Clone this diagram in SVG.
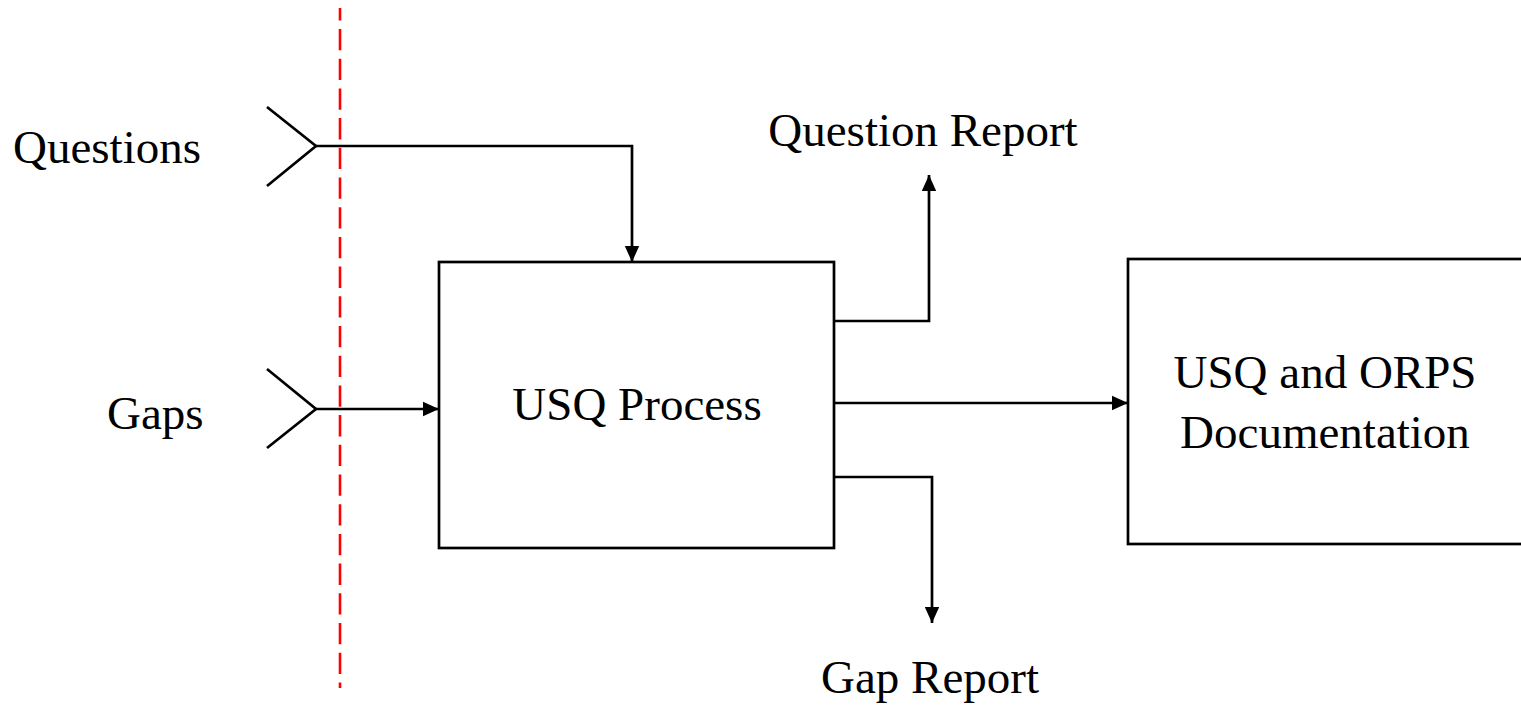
<svg xmlns="http://www.w3.org/2000/svg" width="1521" height="707" viewBox="0 0 1521 707">
<style>
.ln{fill:none;stroke:#000;stroke-width:2.7}
.box{fill:#fff;stroke:#000;stroke-width:2.7}
.t{font-family:"Liberation Serif","Times New Roman",serif;font-size:47px;fill:#000}
.dash{stroke:#ff0000;stroke-width:2.6;stroke-dasharray:21.3 8.4;stroke-dashoffset:8.7}
</style>
<defs>
<marker id="ah" viewBox="0 0 10 10" refX="10" refY="5" markerWidth="16" markerHeight="16" markerUnits="userSpaceOnUse" orient="auto">
<path d="M0,0.5 L10,5 L0,9.5 Z" fill="#000"/>
</marker>
</defs>
<rect width="1521" height="707" fill="#fff"/>
<g id="nodes">
<g id="usq-process">
<rect class="box" x="439" y="262" width="395" height="286"/>
<text class="t" x="637" y="420" text-anchor="middle">USQ Process</text>
</g>
<g id="usq-orps">
<rect class="box" x="1128" y="259" width="420" height="285"/>
<text class="t" x="1325" y="388" text-anchor="middle">USQ and ORPS</text>
<text class="t" x="1325" y="448" text-anchor="middle">Documentation</text>
</g>
<g id="questions">
<text class="t" x="13" y="163">Questions</text>
<polyline class="ln" points="267,107 316,146 267,186"/>
</g>
<g id="gaps">
<text class="t" x="107" y="429">Gaps</text>
<polyline class="ln" points="267,369 316,409 267,448"/>
</g>
<g id="question-report">
<text class="t" x="923" y="146" text-anchor="middle">Question Report</text>
</g>
<g id="gap-report">
<text class="t" x="930" y="693" text-anchor="middle">Gap Report</text>
</g>
</g>
<g id="connectors">
<polyline class="ln" points="316,146 632,146 632,262" marker-end="url(#ah)"/>
<polyline class="ln" points="316,409 439,409" marker-end="url(#ah)"/>
<polyline class="ln" points="834,321 929,321 929,175" marker-end="url(#ah)"/>
<polyline class="ln" points="834,403 1128,403" marker-end="url(#ah)"/>
<polyline class="ln" points="834,477 932,477 932,623" marker-end="url(#ah)"/>
</g>
<line id="boundary" class="dash" x1="340" y1="8" x2="340" y2="688"/>
</svg>
